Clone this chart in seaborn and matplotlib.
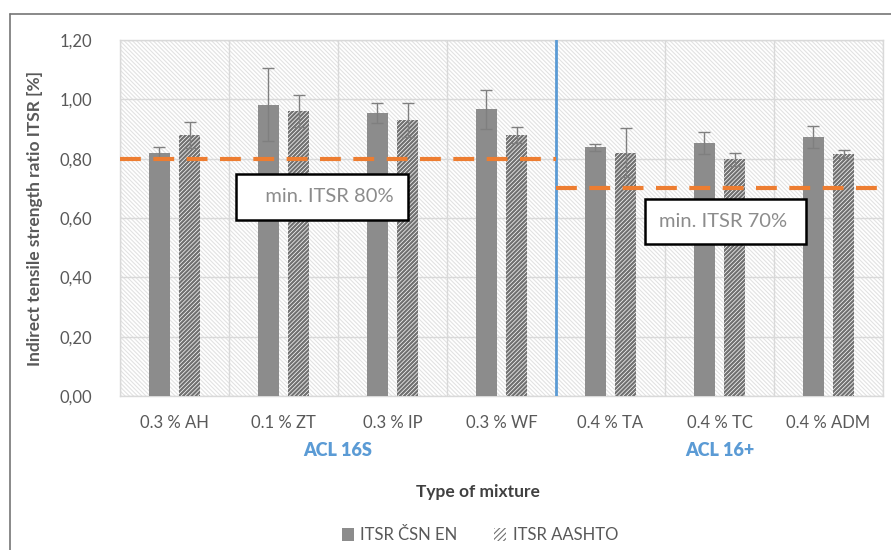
import numpy as np
import pandas as pd
import matplotlib
matplotlib.use("Agg")
import matplotlib.pyplot as plt
import seaborn as sns
from matplotlib.patches import Rectangle, Patch
from matplotlib.lines import Line2D
import matplotlib.transforms as mtransforms

# data
mixtures = ["0.3 % AH", "0.1 % ZT", "0.3 % IP", "0.3 % WF", "0.4 % TA", "0.4 % TC", "0.4 % ADM"]
itsr_csn = [0.818, 0.982, 0.953, 0.966, 0.838, 0.854, 0.874]
err_csn = [0.020, 0.122, 0.034, 0.065, 0.011, 0.037, 0.037]
itsr_aashto = [0.880, 0.961, 0.930, 0.880, 0.820, 0.798, 0.816]
err_aashto = [0.045, 0.055, 0.057, 0.028, 0.082, 0.022, 0.013]
series = ["ITSR ČSN EN", "ITSR AASHTO"]
groups = ["ACL 16S", "ACL 16+"]
limits = [0.80, 0.70]
limit_labels = ["min. ITSR 80%", "min. ITSR 70%"]
yticks = [0.0, 0.2, 0.4, 0.6, 0.8, 1.0, 1.2]

df = pd.DataFrame({
    "mixture": mixtures * 2,
    "itsr": itsr_csn + itsr_aashto,
    "method": [series[0]] * 7 + [series[1]] * 7,
})

sns.set_theme(style="white")
plt.rcParams["font.family"] = ["Lato", "DejaVu Sans"]
plt.rcParams["hatch.linewidth"] = 0.8

txt = "#595959"
blue = "#5b9bd5"
orange = "#ed7d31"
bar_gray = "#8c8c8c"

fig = plt.figure(figsize=(8.91, 5.5), dpi=100)
ax = fig.add_axes([120 / 891, 1 - 396 / 550, (883 - 120) / 891, (396 - 40) / 550])

# hatched plot-area background
bg = Rectangle((0, 0), 1, 1, transform=ax.transAxes, facecolor="white",
               edgecolor="#e2e2e2", hatch="\\" * 8, lw=0, zorder=0)
ax.add_patch(bg)

sns.barplot(data=df, x="mixture", y="itsr", hue="method", order=mixtures,
            hue_order=series, palette=[bar_gray, "white"], width=0.56, gap=0.32,
            errorbar=None, legend=False, ax=ax, zorder=3, saturation=1)

errs = [err_csn, err_aashto]
bar_conts = list(ax.containers)
for k, cont in enumerate(bar_conts):
    xs = [p.get_x() + p.get_width() / 2 for p in cont.patches]
    hs = [p.get_height() for p in cont.patches]
    for p in cont.patches:
        p.set_linewidth(0)
        if k == 1:
            p.set_hatch("/" * 8)
            p.set_edgecolor("#707070")
            if hasattr(p, "set_hatch_linewidth"):
                p.set_hatch_linewidth(1.6)
    ax.errorbar(xs, hs, yerr=errs[k], fmt="none", ecolor="#7f7f7f",
                elinewidth=1, capsize=4, capthick=1, zorder=4)

ax.set_xlim(-0.5, 6.5)
ax.set_ylim(0, 1.2)
ax.set_yticks(yticks)
ax.set_yticklabels([f"{v:.2f}".replace(".", ",") for v in yticks])
for v in yticks:
    ax.axhline(v, color="#d9d9d9", lw=1, zorder=1)
for i in range(8):
    ax.axvline(i - 0.5, color="#d9d9d9", lw=1, zorder=1)
for s in ax.spines.values():
    s.set_color("#d9d9d9")
    s.set_linewidth(1)

ax.tick_params(axis="both", length=0, labelsize=12, labelcolor=txt)
ax.tick_params(axis="x", pad=14)
ax.tick_params(axis="y", pad=20)
ax.set_xlabel("")
ax.set_ylabel("Indirect tensile strength ratio ITSR [%]", fontsize=12.5,
              fontweight="bold", color=txt, labelpad=12)

# group separator and limits
ax.plot([3.5, 3.5], [0, 1.2], color=blue, lw=2, zorder=5)
ax.plot([-0.5, 3.5], [limits[0]] * 2, color=orange, lw=3, dashes=(5, 3), zorder=6)
ax.plot([3.5, 6.5], [limits[1]] * 2, color=orange, lw=3, dashes=(5, 3), zorder=6)

box = dict(boxstyle="square,pad=0.7", facecolor="white", edgecolor="black", lw=1.8)
ax.text(1.354, 0.671, "   " + limit_labels[0], ha="center", va="center", fontsize=14.5,
        color="#8c8c8c", bbox=box, zorder=7)
ax.text(5.055, 0.588, limit_labels[1] + " ", ha="center", va="center", fontsize=14.5,
        color="#8c8c8c", bbox=box, zorder=7)

# group labels below ticks
trans = mtransforms.blended_transform_factory(ax.transData, fig.transFigure)
ax.text(1.5, 1 - 451 / 550, groups[0], transform=trans, ha="center", va="center",
        fontsize=13, fontweight="heavy", color=blue)
ax.text(5.0, 1 - 451 / 550, groups[1], transform=trans, ha="center", va="center",
        fontsize=13, fontweight="heavy", color=blue)

fig.text(478 / 891, 1 - 492 / 550, "Type of mixture", ha="center", va="center",
         fontsize=12.5, fontweight="bold", color="#404040")

handles = [Patch(facecolor=bar_gray, edgecolor="none"),
           Patch(facecolor="white", edgecolor="#707070", hatch="/" * 6, lw=0)]
fig.legend(handles, series, loc="center", bbox_to_anchor=(480 / 891, 1 - 535 / 550),
           ncol=2, frameon=False, fontsize=12, labelcolor=txt, handlelength=0.7,
           handleheight=0.8, columnspacing=2.2, handletextpad=0.4)

# outer chart frame
fig.add_artist(Line2D([10 / 891, 10 / 891], [0, 1 - 14 / 550], color="#767676", lw=1.2))
fig.add_artist(Line2D([10 / 891, 1], [1 - 14 / 550, 1 - 14 / 550], color="#767676", lw=1.2))

fig.savefig("out.png", dpi=100, facecolor="white")
